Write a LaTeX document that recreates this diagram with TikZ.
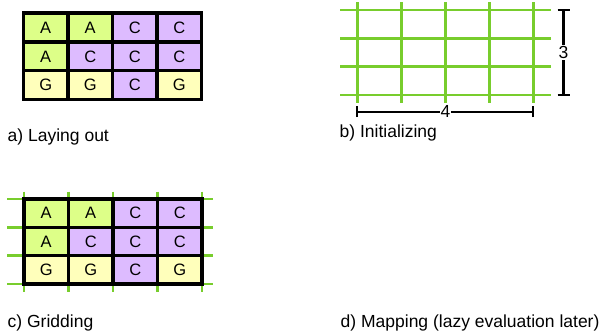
\documentclass[tikz,border=0pt]{standalone}
\usepackage{fontspec}
\setmainfont{Liberation Sans}
\definecolor{cellA}{RGB}{221,255,136}
\definecolor{cellC}{RGB}{221,187,255}
\definecolor{cellG}{RGB}{255,255,187}
\definecolor{gridgreen}{RGB}{120,205,45}
\tikzset{
  cell/.style={minimum width=44.5pt, minimum height=28.5pt, inner sep=0pt,
    font=\fontsize{16.5}{19}\selectfont},
  cellborder/.style={draw=black, line width=3pt},
  greenline/.style={draw=gridgreen, line width=2.5pt},
  dimline/.style={draw=black, line width=2.2pt},
  dimlabel/.style={fill=white, inner sep=1pt, font=\fontsize{17.5}{20}\selectfont},
  caption/.style={anchor=base west, inner sep=0pt, font=\fontsize{17.5}{21}\selectfont}
}
\begin{document}
\begin{tikzpicture}[x=1pt, y=-1pt]
\useasboundingbox (0,0) rectangle (600,335);

% ---------- a) laid-out letter block ----------
\foreach \r/\row in {1/{A,A,C,C}, 2/{A,C,C,C}, 3/{G,G,C,G}} {
  \foreach \l [count=\c] in \row {
    \node[cell, fill=cell\l] (a-\r-\c) at ({23.5+44.5*(\c-0.5)}, {13.3+28.7*(\r-0.5)}) {\l};
  }
}
\foreach \r in {1,2,3} \foreach \c in {1,2,3,4}
  \draw[cellborder] (a-\r-\c.north west) rectangle (a-\r-\c.south east);
\draw[cellborder, line width=3.5pt] (a-1-1.north west) rectangle (a-3-4.south east);
\node[caption] (capa) at (7.5,141.5) {a) Laying out};

% ---------- b) empty 4x3 grid with its dimensions ----------
\foreach \i [count=\k] in {10,38.33,66.67,95} {
  \coordinate (bh\k-w) at (340,\i);
  \coordinate (bh\k-e) at (551,\i);
  \draw[greenline] (bh\k-w) -- (bh\k-e);
}
\foreach \i [count=\k] in {357.3,401.3,445.3,489.3,533.3} {
  \coordinate (bv\k-n) at (\i,2);
  \coordinate (bv\k-s) at (\i,103);
  \draw[greenline] (bv\k-n) -- (bv\k-s);
}
% height dimension
\coordinate (dh-top) at (563.5,10);
\coordinate (dh-bot) at (563.5,95);
\draw[dimline] (dh-top) -- (dh-bot);
\draw[dimline] ([xshift=-6pt]dh-top) -- ([xshift=6pt]dh-top);
\draw[dimline] ([xshift=-6pt]dh-bot) -- ([xshift=6pt]dh-bot);
\node[dimlabel] (dh-lab) at (563.5,52.5) {3};
% width dimension
\coordinate (dw-left) at (357.3,111.7);
\coordinate (dw-right) at (533.3,111.7);
\draw[dimline] (dw-left) -- (dw-right);
\draw[dimline] ([yshift=-5.5pt]dw-left) -- ([yshift=5.5pt]dw-left);
\draw[dimline] ([yshift=-5.5pt]dw-right) -- ([yshift=5.5pt]dw-right);
\node[dimlabel] (dw-lab) at (445.5,111.7) {4};
\node[caption] (capb) at (339.5,137.5) {b) Initializing};

% ---------- c) letter block laid over the grid ----------
\foreach \i [count=\k] in {199,227.33,255.67,284} {
  \coordinate (ch\k-w) at (7,\i);
  \coordinate (ch\k-e) at (213,\i);
  \draw[greenline] (ch\k-w) -- (ch\k-e);
}
\foreach \i [count=\k] in {24,68.5,113,157.5,202} {
  \coordinate (cv\k-n) at (\i,191.5);
  \coordinate (cv\k-s) at (\i,292);
  \draw[greenline] (cv\k-n) -- (cv\k-s);
}
\foreach \r/\row in {1/{A,A,C,C}, 2/{A,C,C,C}, 3/{G,G,C,G}} {
  \foreach \l [count=\c] in \row {
    \node[cell, minimum height=28.33pt, fill=cell\l] (c-\r-\c) at ({24+44.5*(\c-0.5)}, {199+28.33*(\r-0.5)}) {\l};
  }
}
\foreach \r in {1,2,3} \foreach \c in {1,2,3,4}
  \draw[cellborder] (c-\r-\c.north west) rectangle (c-\r-\c.south east);
\draw[cellborder, line width=3.5pt] (c-1-1.north west) rectangle (c-3-4.south east);
\node[caption] (capc) at (7.5,327.5) {c) Gridding};

% ---------- d) mapping ----------
\node[caption] (capd) at (340.5,327.5) {d) Mapping (lazy evaluation later)};
\end{tikzpicture}
\end{document}
